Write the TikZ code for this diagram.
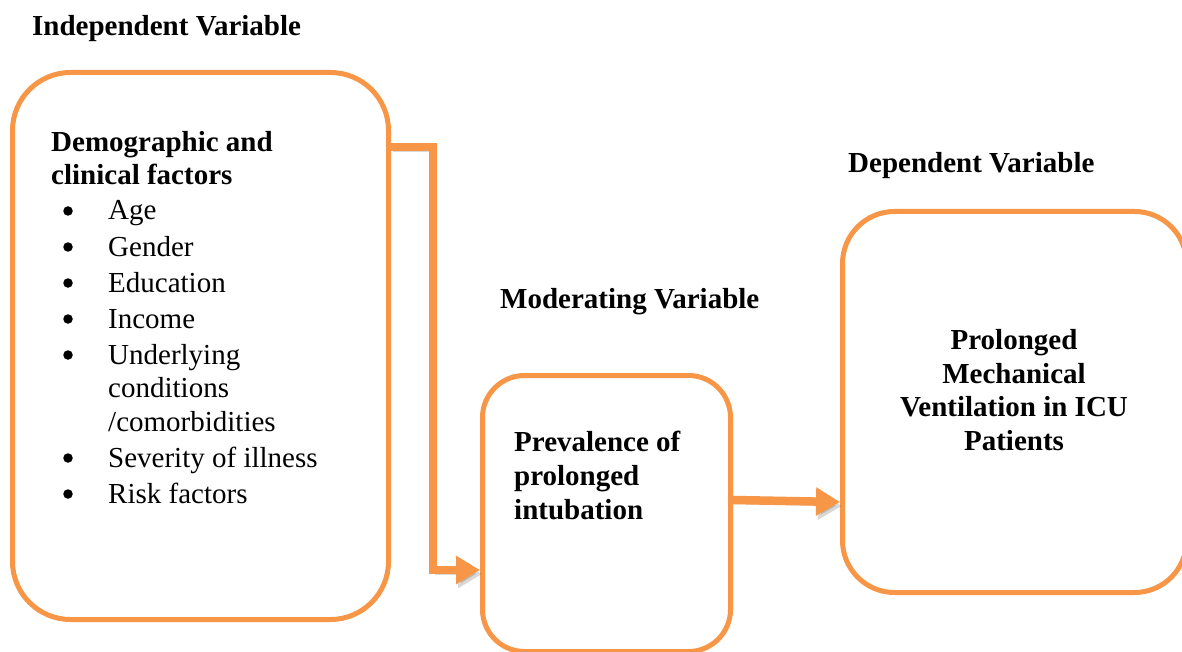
\documentclass[tikz,border=0pt]{standalone}
\usepackage{fontspec}
\setmainfont{Liberation Serif}
\usetikzlibrary{arrows.meta}
\definecolor{orng}{HTML}{F79646}
\tikzset{
  box/.style={draw=orng, line width=5pt, fill=none, inner sep=0pt},
  txt/.style={inner sep=0pt, anchor=base west, font=\fontsize{29}{34}\selectfont},
  btxt/.style={txt, font=\fontsize{29}{34}\selectfont\bfseries},
  bul/.style={circle, fill=black, inner sep=0pt, minimum size=9.5pt},
  arr/.style={draw=orng, line width=8.5pt, -{Triangle[length=24pt,width=27pt]},
    preaction={draw=black!70, opacity=0.22, transform canvas={xshift=2pt,yshift=-4pt}}},
}
\begin{document}
\begin{tikzpicture}[x=1pt,y=-1pt]
\path[use as bounding box] (0,0) rectangle (1182,652);

% boxes
\node[box, rounded corners=58pt, minimum width=376pt, minimum height=547pt, anchor=north west] (iv) at (10,70) {};
\node[box, rounded corners=42pt, minimum width=248pt, minimum height=276pt, anchor=north west] (mv) at (480,373) {};
\node[box, rounded corners=52pt, minimum width=344pt, minimum height=381pt, anchor=north west] (dv) at (840,209) {};

% headings
\node[btxt] (hiv) at (32,36) {Independent Variable};
\node[btxt] (hmv) at (500,308) {Moderating Variable};
\node[btxt] (hdv) at (848,173) {Dependent Variable};

% independent box text
\node[btxt] (d1) at (51,152) {Demographic and};
\node[btxt] (d2) at (51,185) {clinical factors};
\foreach \y/\t/\n in {220/Age/1, 256/Gender/2, 292/Education/3, 328/Income/4, 364/Underlying/5, 467/Severity of illness/8, 503/Risk factors/9}{
  \node[bul] (b\n) at (68,\y-9) {};
  \node[txt] (l\n) at (108,\y) {\t};
}
\node[txt] (l6) at (108,397) {conditions};
\node[txt] (l7) at (108,431) {/comorbidities};

% moderating box text
\node[btxt] (m1) at (514,451) {Prevalence of};
\node[btxt] (m2) at (514,485) {prolonged};
\node[btxt] (m3) at (514,519) {intubation};

% dependent box text
\node[inner sep=0pt, align=center, font=\fontsize{29}{33.5}\selectfont\bfseries, anchor=base] (p1) at (1014,450)
  {Prolonged\\Mechanical\\Ventilation in ICU\\Patients};

% connectors
\coordinate (a1) at (iv.east |- 0,147);
\coordinate (a2) at (433,147);
\coordinate (a3) at (433,570);
\draw[arr] (a1) -- (a2) -- (a3) -- (mv.west |- a3);
\draw[arr] (mv.east |- 0,500) -- (dv.west |- 0,502);
\end{tikzpicture}
\end{document}
